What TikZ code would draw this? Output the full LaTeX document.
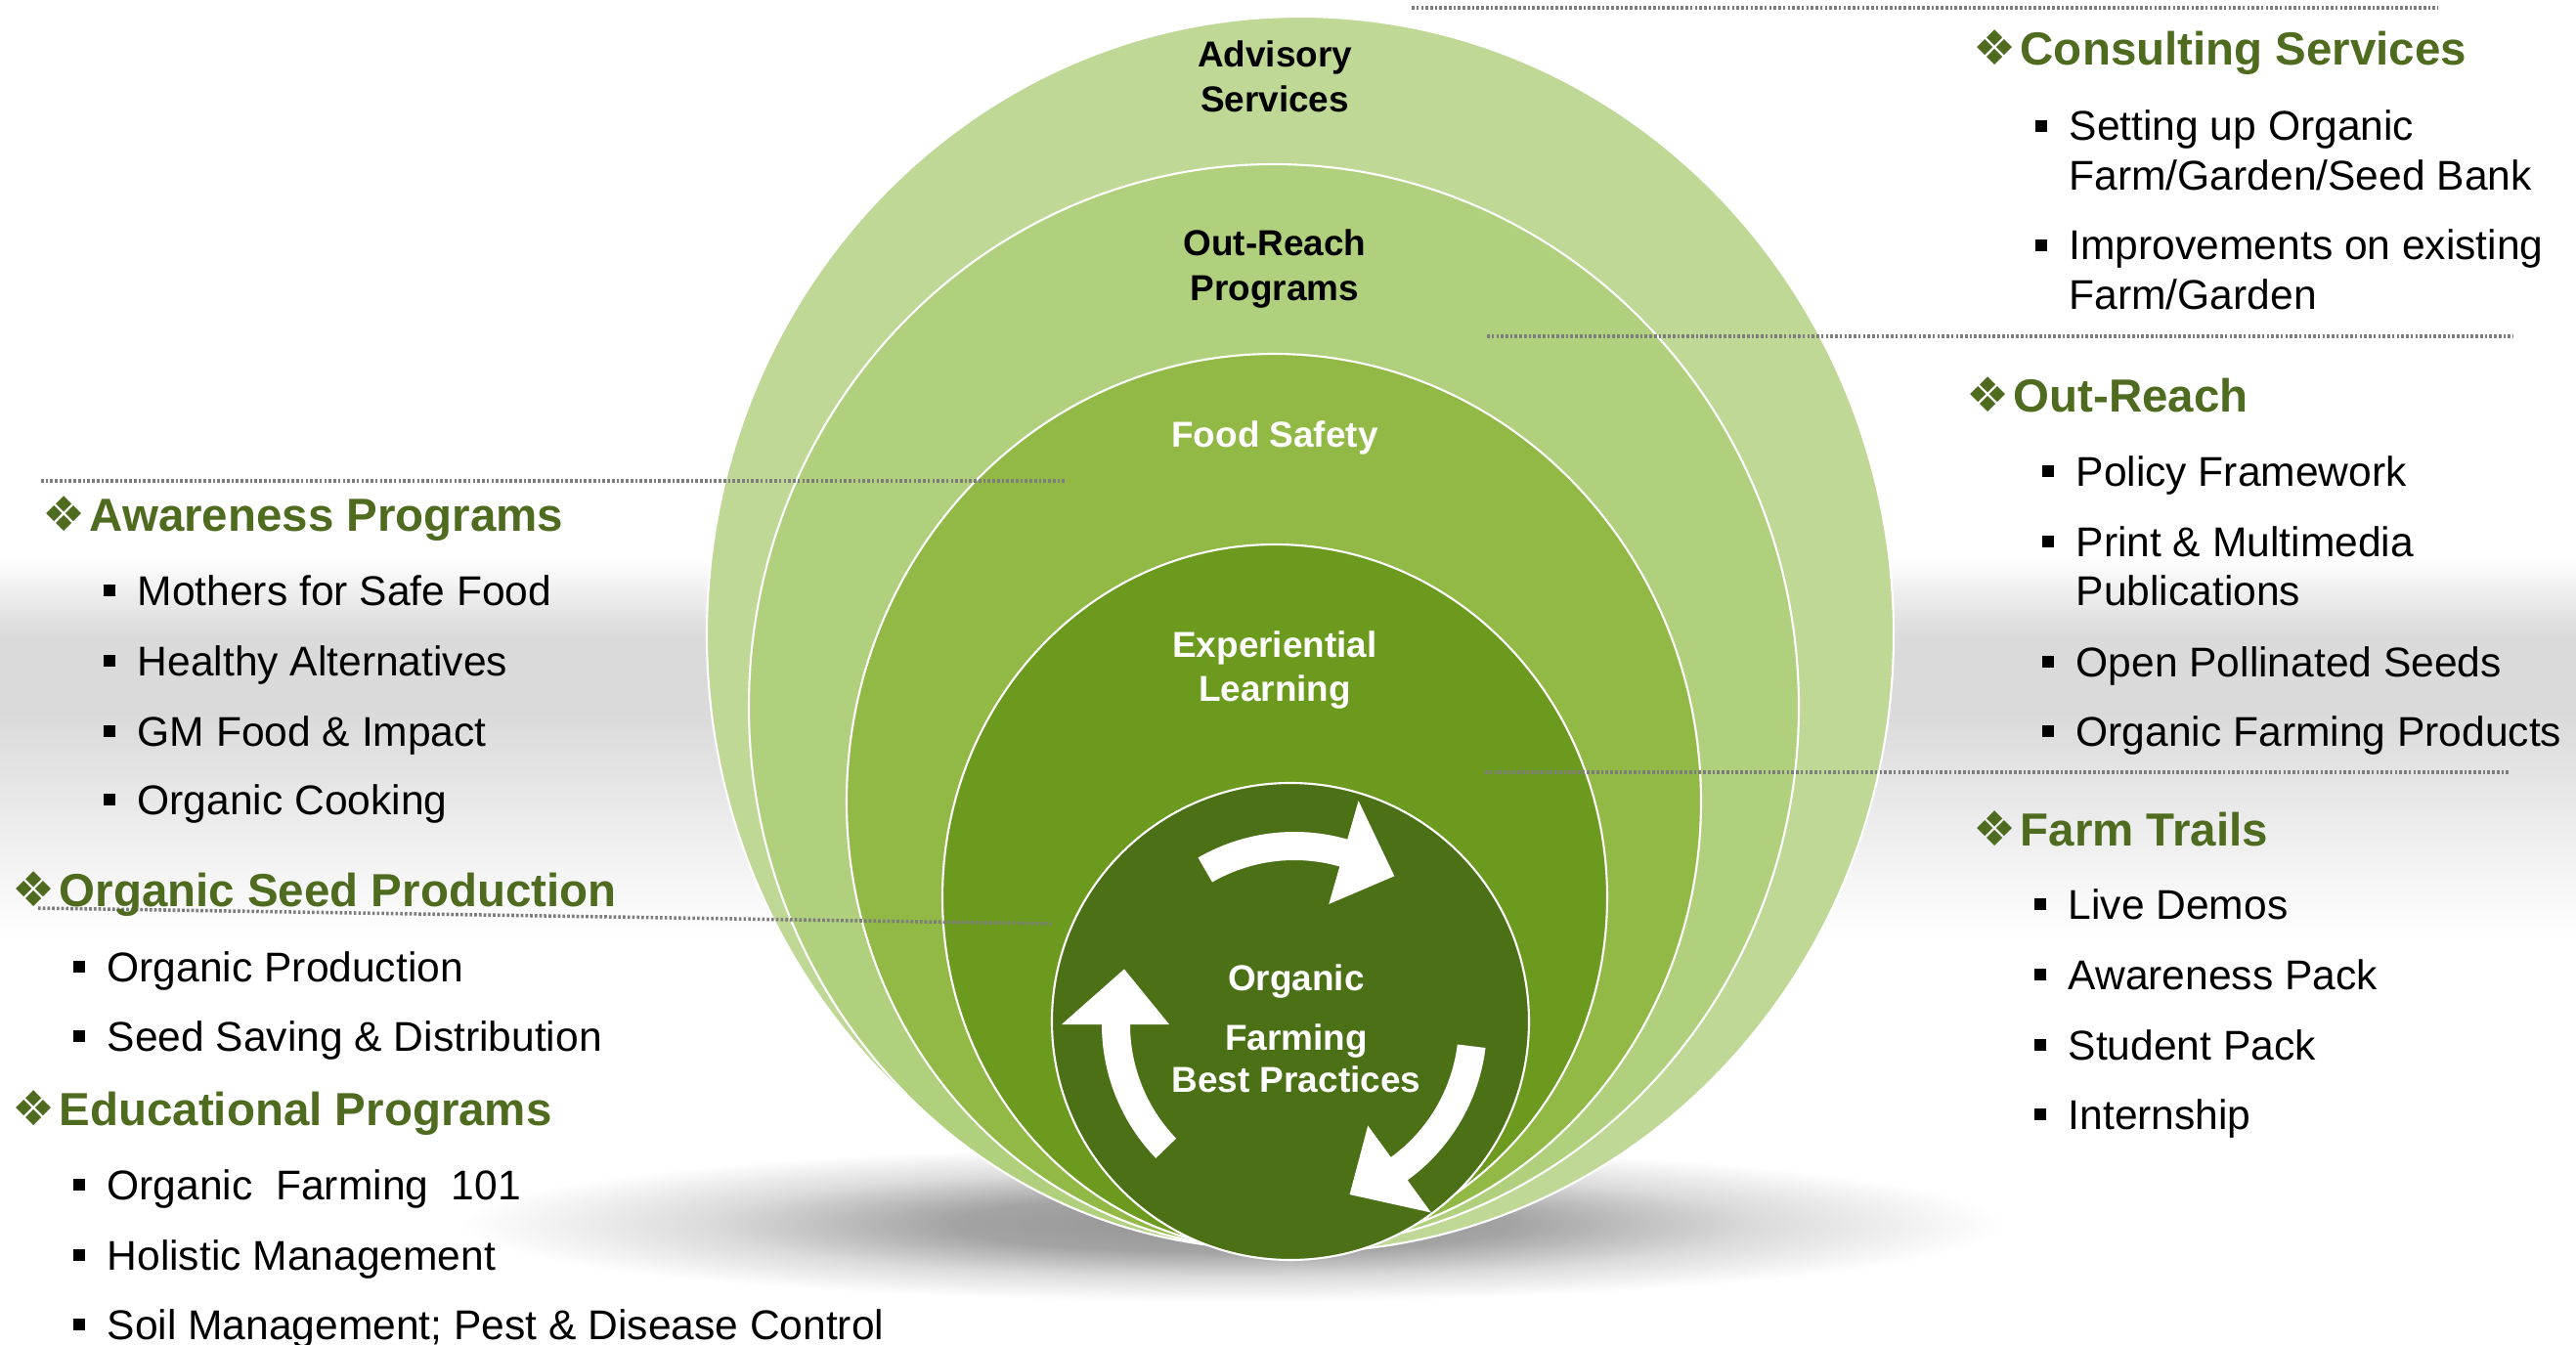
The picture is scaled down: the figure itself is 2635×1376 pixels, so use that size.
\documentclass[tikz,border=0pt]{standalone}
\usepackage{fontspec}
\setmainfont{Liberation Sans}
\newfontfamily\dejavu{DejaVu Sans}
\usetikzlibrary{calc}
\definecolor{ringA}{RGB}{191,216,149}
\definecolor{ringB}{RGB}{177,208,125}
\definecolor{ringC}{RGB}{146,185,70}
\definecolor{ringD}{RGB}{108,154,30}
\definecolor{ringE}{RGB}{76,112,22}
\definecolor{headgreen}{RGB}{79,107,31}
\definecolor{bandgray}{RGB}{218,218,218}
\definecolor{sepgray}{RGB}{125,125,125}
\pgfdeclareradialshading{floorshadow}{\pgfpoint{0bp}{0bp}}{rgb(0bp)=(0.58,0.58,0.58); rgb(9bp)=(0.64,0.64,0.64); rgb(17bp)=(0.86,0.86,0.86); rgb(25bp)=(1,1,1); rgb(50bp)=(1,1,1)}
\newcommand{\sqbul}{\llap{\raisebox{2.56pt}{\rule{3.41pt}{3.41pt}}\hspace{6.54pt}}}
\newcommand{\diam}{\llap{{\dejavu\fontsize{14}{14}\selectfont\color{headgreen}❖}\hspace{1.2pt}}}
\tikzset{
  heading/.style={anchor=base west, inner sep=0pt, font=\fontsize{13.5}{16}\selectfont\bfseries, text=headgreen},
  item/.style={anchor=base west, inner sep=0pt, font=\fontsize{12.1}{14.5}\selectfont, text=black},
  ring/.style={draw=white, line width=0.6pt},
  ringlabel/.style={anchor=base, inner sep=0pt, font=\fontsize{10.5}{12.8}\selectfont\bfseries},
  sep/.style={draw=sepgray, line width=1pt, dash pattern=on 0.75pt off 0.6pt},
  cyclearrow/.style={fill=white}
}
\begin{document}
\begin{tikzpicture}[x=0.01cm,y=0.01cm]
\useasboundingbox (0,0) rectangle (2635,-1376);
\fill[white] (0,0) rectangle (2635,-1376);
% grey band
\fill[top color=white, bottom color=bandgray] (0,-570) rectangle (2635,-651);
\fill[bandgray] (0,-650) rectangle (2635,-731);
\fill[top color=bandgray, bottom color=white] (0,-730) rectangle (2635,-960);
% floor shadow
\shade[shading=floorshadow] (1260,-1252) ellipse [x radius=790, y radius=80];
% rings
\filldraw[ring, fill=ringA] (1330,-649) ellipse [x radius=607, y radius=632];
\filldraw[ring, fill=ringB] (1303,-723) ellipse [x radius=537, y radius=555];
\filldraw[ring, fill=ringC] (1303,-820) ellipse [x radius=437, y radius=458];
\filldraw[ring, fill=ringD] (1304,-918) ellipse [x radius=340, y radius=361];
\filldraw[ring, fill=ringE] (1320,-1045) ellipse [x radius=244, y radius=244];
% cycle arrows
\begin{scope}[shift={(1324,-1048)}]
\fill[cyclearrow] (120:197) arc[start angle=120, end angle=74, radius=197] -- (74:238) -- (56:183) -- (74:128) -- (74:168) arc[start angle=74, end angle=120, radius=168] -- cycle;
\fill[cyclearrow] (-7:197) arc[start angle=-7, end angle=-54, radius=197] -- (-54:238) -- (-72:183) -- (-54:128) -- (-54:168) arc[start angle=-54, end angle=-7, radius=168] -- cycle;
\fill[cyclearrow] (224:197) arc[start angle=224, end angle=180, radius=197] -- (180:238) -- (162:183) -- (180:128) -- (180:168) arc[start angle=180, end angle=224, radius=168] -- cycle;
\end{scope}
% ring labels
\node[ringlabel, text=black] (adv) at (1304,-69) {\begin{tabular}[t]{@{}c@{}}Advisory\\Services\end{tabular}};
\node[ringlabel, text=black] (orp) at (1304,-262) {\begin{tabular}[t]{@{}c@{}}Out-Reach\\Programs\end{tabular}};
\node[ringlabel, text=white] (fs) at (1304,-458) {Food Safety};
\node[ringlabel, text=white] (el) at (1304,-672) {\begin{tabular}[t]{@{}c@{}}Experiential\\Learning\end{tabular}};
\node[ringlabel, text=white, font=\fontsize{10.5}{12.2}\selectfont\bfseries] (ofbp) at (1326,-1013) {\begin{tabular}[t]{@{}c@{}}Organic\\[5.4pt]Farming\\Best Practices\end{tabular}};
% separators
\coordinate (s1a) at (1444,-8);   \coordinate (s1b) at (2494,-8);
\coordinate (s2a) at (1521,-344); \coordinate (s2b) at (2571,-344);
\coordinate (s3a) at (1519,-790); \coordinate (s3b) at (2566,-790);
\coordinate (s4a) at (42,-492);   \coordinate (s4b) at (1091,-492);
\coordinate (s5a) at (39,-929);   \coordinate (s5b) at (1076,-945);
\draw[sep] (s1a) -- (s1b);
\draw[sep] (s2a) -- (s2b);
\draw[sep] (s3a) -- (s3b);
\draw[sep] (s4a) -- (s4b);
\draw[sep] (s5a) -- (s5b);
% right column
\node[heading] (hcs) at (2066,-67) {\diam Consulting Services};
\node[item] (cs1) at (2116,-144) {\sqbul\begin{tabular}[t]{@{}l@{}}Setting up Organic\\Farm/Garden/Seed Bank\end{tabular}};
\node[item] (cs2) at (2116,-266) {\sqbul\begin{tabular}[t]{@{}l@{}}Improvements on existing\\Farm/Garden\end{tabular}};
\node[heading] (hor) at (2059,-422) {\diam Out-Reach};
\node[item] (or1) at (2123,-497) {\sqbul Policy Framework};
\node[item] (or2) at (2123,-569) {\sqbul\begin{tabular}[t]{@{}l@{}}Print \& Multimedia\\Publications\end{tabular}};
\node[item] (or3) at (2123,-692) {\sqbul Open Pollinated Seeds};
\node[item] (or4) at (2123,-763) {\sqbul Organic Farming Products};
\node[heading] (hft) at (2066,-865) {\diam Farm Trails};
\node[item] (ft1) at (2115,-940) {\sqbul Live Demos};
\node[item] (ft2) at (2115,-1012) {\sqbul Awareness Pack};
\node[item] (ft3) at (2115,-1084) {\sqbul Student Pack};
\node[item] (ft4) at (2115,-1155) {\sqbul Internship};
% left column
\node[heading] (hap) at (91,-543) {\diam Awareness Programs};
\node[item] (ap1) at (140,-619) {\sqbul Mothers for Safe Food};
\node[item] (ap2) at (140,-691) {\sqbul Healthy Alternatives};
\node[item] (ap3) at (140,-763) {\sqbul GM Food \& Impact};
\node[item] (ap4) at (140,-833) {\sqbul Organic Cooking};
\node[heading] (hosp) at (60,-927) {\diam Organic Seed Production};
\node[item] (osp1) at (109,-1004) {\sqbul Organic Production};
\node[item] (osp2) at (109,-1075) {\sqbul Seed Saving \& Distribution};
\node[heading] (hep) at (60,-1151) {\diam Educational Programs};
\node[item] (ep1) at (109,-1227) {\sqbul Organic\ \ Farming\ \ 101};
\node[item] (ep2) at (109,-1299) {\sqbul Holistic Management};
\node[item] (ep3) at (109,-1370) {\sqbul Soil Management; Pest \& Disease Control};
\end{tikzpicture}
\end{document}
